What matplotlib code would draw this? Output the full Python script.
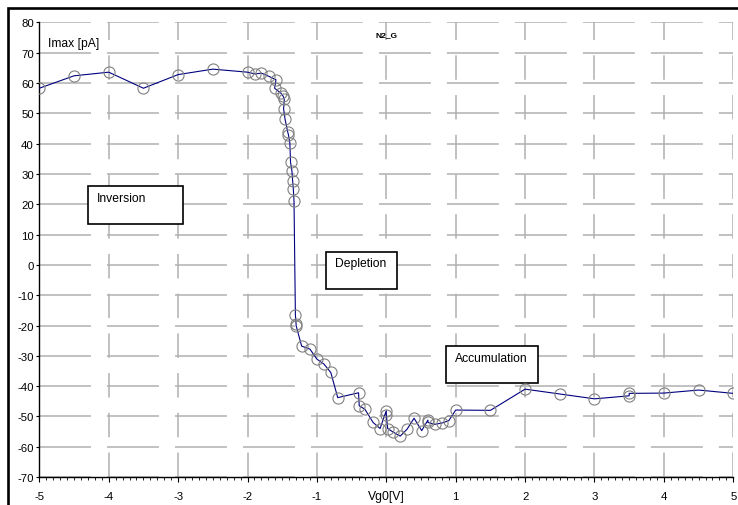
import matplotlib
matplotlib.use("Agg")
import matplotlib.pyplot as plt
from matplotlib.patches import Rectangle
from matplotlib.ticker import MultipleLocator

plt.rcParams["font.family"] = ["Liberation Sans", "DejaVu Sans"]
plt.rcParams["axes.unicode_minus"] = False

# gate voltage sweep and peak current
vg = [-5.0, -4.5, -4.0, -3.5, -3.0, -2.5, -2.0, -1.89, -1.80, -1.69, -1.59,
      -1.61, -1.52, -1.49, -1.47, -1.48, -1.46, -1.42, -1.41, -1.39, -1.38,
      -1.36, -1.35, -1.34, -1.33, -1.31, -1.30, -1.30, -1.22, -1.10, -1.00,
      -0.90, -0.80, -0.70, -0.40, -0.39, -0.31, -0.19, -0.09, 0.00, 0.00,
      0.02, 0.10, 0.20, 0.30, 0.40, 0.51, 0.60, 0.60, 0.70, 0.80, 0.90,
      1.00, 1.50, 2.00, 2.50, 3.00, 3.50, 3.50, 4.00, 4.50, 5.00]
imax = [58.3, 62.4, 63.6, 58.3, 62.8, 64.6, 63.6, 63.0, 63.3, 62.2, 61.1,
        58.3, 56.7, 55.8, 54.8, 51.5, 48.2, 43.8, 42.9, 40.2, 33.9,
        30.9, 27.8, 25.0, 21.0, -16.5, -19.5, -20.0, -26.8, -27.8, -31.1,
        -32.7, -35.5, -43.8, -42.2, -46.5, -47.6, -52.0, -54.0, -48.1, -49.5,
        -54.0, -55.2, -56.5, -54.2, -50.6, -54.7, -51.2, -52.0, -52.6, -52.2, -51.4,
        -47.9, -48.0, -41.0, -42.6, -44.2, -43.2, -42.4, -42.3, -41.3, -42.4]

x_ticks = [-5, -4, -3, -2, -1, 0, 1, 2, 3, 4, 5]
x_ticklabels = ["-5", "-4", "-3", "-2", "-1", "", "1", "2", "3", "4", "5"]
y_ticks = list(range(-70, 81, 10))

# region labels: (text, box left, box right, box bottom, box top)
regions = [
    ("Inversion", -4.30, -2.93, 13.5, 26.0),
    ("Depletion", -0.87, 0.15, -7.9, 4.3),
    ("Accumulation", 0.86, 2.19, -39.0, -26.8),
]

fig = plt.figure(figsize=(7.38, 5.06), dpi=100)
ax = fig.add_axes([0.0533, 0.0553, 0.9403, 0.8983])

# outer chart frame
fig.patches.append(Rectangle((0.0108, -0.1), 1.2, 1.0832, transform=fig.transFigure,
                             fill=False, edgecolor="black", linewidth=1.9))

ax.set_xlim(-5, 5)
ax.set_ylim(-70, 80)

for y in y_ticks:
    ax.axhline(y, color="#b0b0b0", linewidth=1.1, dashes=(34, 10.5), zorder=0)
for x in x_ticks:
    ax.axvline(x, color="#b0b0b0", linewidth=1.1, dashes=(16, 10), zorder=0)

ax.plot(vg, imax, color="#000080", linewidth=0.8, zorder=3,
        marker="o", markersize=8, markerfacecolor="none",
        markeredgecolor="#808080", markeredgewidth=0.8)

for label, x0, x1, y0, y1 in regions:
    ax.add_patch(Rectangle((x0, y0), x1 - x0, y1 - y0, facecolor="white",
                           edgecolor="black", linewidth=1.2, zorder=2))
    ax.text(x0 + 0.13, y1 - 3.8, label, fontsize=8.7, ha="left", va="center",
            zorder=4)

ax.text(-4.88, 73.2, "Imax [pA]", fontsize=8.7, ha="left", va="center")
ax.text(0.0, 76.0, "N2_G", fontsize=6, fontweight="bold",
        ha="center", va="center")

ax.set_xticks(x_ticks)
ax.set_xticklabels(x_ticklabels)
ax.xaxis.set_minor_locator(MultipleLocator(0.1))
ax.set_yticks(y_ticks)
ax.tick_params(axis="both", labelsize=8.2, direction="out", color="black")
ax.tick_params(axis="x", which="major", length=3.5, pad=6.5)
ax.tick_params(axis="x", which="minor", length=2)
ax.tick_params(axis="y", which="major", length=2.5, pad=1.5)

ax.text(0.0, -76.4, "Vg0[V]", fontsize=8.7, ha="center", va="center",
        clip_on=False)

for side in ("top", "right"):
    ax.spines[side].set_visible(False)
for side in ("left", "bottom"):
    ax.spines[side].set_linewidth(1.0)

fig.savefig("out.png", dpi=100)
